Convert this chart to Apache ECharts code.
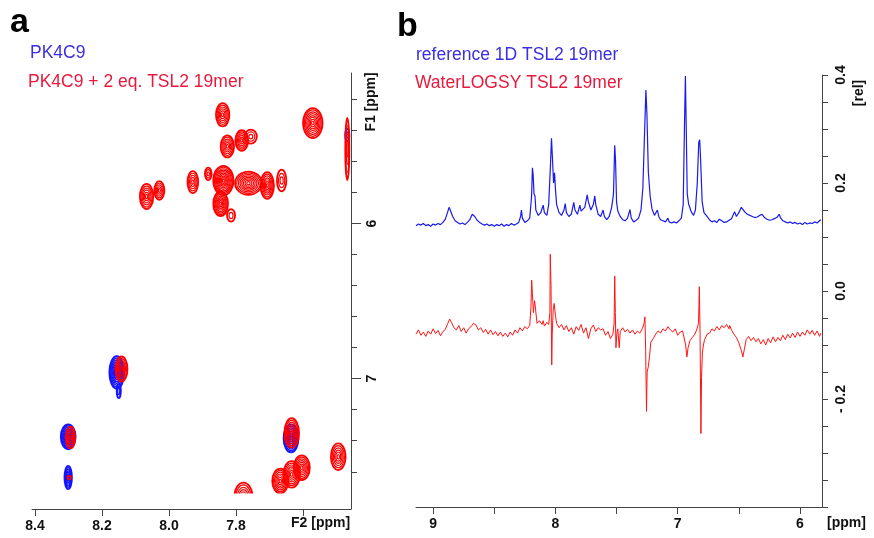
<!DOCTYPE html>
<html>
<head>
<meta charset="utf-8">
<script src="https://cdn.jsdelivr.net/npm/echarts@6/dist/echarts.min.js"></script>
<style>html,body{margin:0;padding:0;background:#fff;}#c{width:874px;height:538px;}</style>
</head>
<body>
<div id="c"></div>
<script>
// ---------- Panel a: 2D contour peaks [F2 ppm, F1 ppm, half-width F2 (ppm), half-width F1 (ppm), contour levels]
const redContours = [
  [7.840, 5.299, 0.020, 0.075, 6],
  [7.571, 5.353, 0.029, 0.097, 8],
  [7.826, 5.503, 0.020, 0.071, 6],
  [7.783, 5.465, 0.019, 0.066, 6],
  [7.756, 5.440, 0.018, 0.045, 3],
  [8.067, 5.826, 0.020, 0.081, 6],
  [8.029, 5.787, 0.015, 0.060, 5],
  [7.929, 5.733, 0.016, 0.071, 5],
  [7.838, 5.723, 0.030, 0.095, 10],
  [7.846, 5.873, 0.022, 0.080, 8],
  [7.815, 5.948, 0.012, 0.040, 2],
  [7.883, 5.680, 0.010, 0.040, 3],
  [7.763, 5.740, 0.040, 0.075, 8],
  [7.707, 5.755, 0.020, 0.086, 7],
  [7.664, 5.723, 0.014, 0.070, 3],
  [8.142, 6.938, 0.018, 0.081, 6],
  [8.294, 7.379, 0.014, 0.070, 5],
  [8.298, 7.637, 0.005, 0.012, 1],
  [7.634, 7.350, 0.022, 0.095, 7],
  [7.495, 7.503, 0.022, 0.086, 6],
  [7.668, 7.660, 0.024, 0.080, 7],
  [7.634, 7.617, 0.025, 0.085, 7],
  [7.604, 7.574, 0.024, 0.080, 7],
  [7.778, 7.760, 0.027, 0.090, 6],
  [7.468, 5.520, 0.006, 0.200, 4]
];
const blueContours = [
  [8.156, 6.960, 0.022, 0.105, 9],
  [8.150, 7.080, 0.006, 0.045, 2],
  [8.301, 7.375, 0.022, 0.080, 9],
  [8.301, 7.637, 0.011, 0.075, 7],
  [7.636, 7.385, 0.022, 0.090, 8],
  [7.468, 5.430, 0.006, 0.040, 2]
];
const F1_LIMIT = 7.74;
const f2Ticks = [8.4, 8.2, 8.0, 7.8, 7.6];
const f2Labels = [8.4, 8.2, 8.0, 7.8];
const f1Ticks = [5.2, 5.4, 5.6, 5.8, 6.0, 6.2, 6.4, 6.6, 6.8, 7.0, 7.2, 7.4, 7.6];
const f1Labels = [6, 7];

// ---------- Panel b: 1D spectra [ppm, rel]
const blueSpectrum = [
[9.14,0.121],[9.12,0.124],[9.10,0.122],[9.08,0.125],[9.06,0.121],[9.04,0.123],[9.02,0.120],[9.00,0.124],
[8.98,0.122],[8.96,0.125],[8.94,0.123],[8.92,0.127],[8.90,0.133],[8.88,0.147],[8.87,0.155],[8.86,0.150],
[8.84,0.138],[8.82,0.130],[8.80,0.127],[8.78,0.124],[8.76,0.126],[8.74,0.123],[8.72,0.127],[8.70,0.132],
[8.68,0.142],[8.67,0.143],[8.66,0.138],[8.64,0.131],[8.62,0.127],[8.60,0.124],[8.58,0.122],[8.56,0.124],
[8.54,0.121],[8.52,0.123],[8.50,0.120],[8.48,0.123],[8.46,0.121],[8.44,0.124],[8.42,0.120],[8.40,0.123],
[8.38,0.121],[8.36,0.125],[8.34,0.122],[8.32,0.124],[8.30,0.127],[8.285,0.138],[8.278,0.150],[8.27,0.135],
[8.25,0.127],[8.23,0.130],[8.21,0.135],[8.195,0.175],[8.188,0.228],[8.182,0.215],[8.175,0.180],[8.167,0.176],
[8.16,0.150],[8.14,0.140],[8.12,0.145],[8.10,0.159],[8.09,0.145],[8.07,0.140],[8.055,0.160],[8.04,0.235],
[8.032,0.283],[8.025,0.250],[8.015,0.200],[8.007,0.219],[8.00,0.190],[7.99,0.160],[7.97,0.145],[7.95,0.140],
[7.93,0.150],[7.92,0.162],[7.91,0.145],[7.89,0.138],[7.87,0.142],[7.85,0.164],[7.84,0.150],[7.82,0.142],
[7.80,0.159],[7.79,0.148],[7.76,0.155],[7.745,0.172],[7.74,0.178],[7.73,0.165],[7.71,0.150],[7.69,0.160],
[7.678,0.176],[7.67,0.160],[7.65,0.142],[7.63,0.138],[7.61,0.150],[7.60,0.138],[7.58,0.132],[7.56,0.138],
[7.54,0.155],[7.525,0.180],[7.515,0.270],[7.508,0.240],[7.50,0.165],[7.49,0.148],[7.478,0.150],[7.47,0.138],
[7.45,0.132],[7.43,0.130],[7.41,0.135],[7.39,0.151],[7.38,0.135],[7.36,0.128],[7.34,0.131],[7.32,0.135],
[7.30,0.150],[7.285,0.190],[7.27,0.300],[7.26,0.372],[7.252,0.330],[7.24,0.220],[7.225,0.175],[7.21,0.152],
[7.19,0.140],[7.175,0.140],[7.166,0.150],[7.155,0.138],[7.14,0.132],[7.12,0.130],[7.10,0.128],[7.08,0.135],
[7.07,0.128],[7.05,0.126],[7.03,0.128],[7.01,0.126],[6.99,0.130],[6.97,0.135],[6.955,0.160],[6.945,0.300],
[6.937,0.398],[6.93,0.300],[6.922,0.180],[6.91,0.160],[6.902,0.156],[6.895,0.150],[6.885,0.145],[6.87,0.140],
[6.855,0.150],[6.84,0.200],[6.828,0.275],[6.82,0.280],[6.812,0.240],[6.80,0.165],[6.785,0.145],[6.771,0.147],
[6.76,0.138],[6.74,0.132],[6.72,0.128],[6.70,0.130],[6.68,0.127],[6.66,0.133],[6.64,0.130],[6.62,0.127],
[6.60,0.128],[6.58,0.131],[6.56,0.134],[6.535,0.147],[6.52,0.138],[6.50,0.145],[6.48,0.155],[6.467,0.156],
[6.45,0.146],[6.43,0.142],[6.41,0.140],[6.39,0.138],[6.37,0.136],[6.35,0.137],[6.33,0.140],[6.31,0.142],
[6.29,0.136],[6.27,0.133],[6.25,0.131],[6.23,0.132],[6.21,0.134],[6.19,0.136],[6.17,0.142],[6.16,0.136],
[6.14,0.130],[6.12,0.128],[6.10,0.126],[6.08,0.128],[6.06,0.125],[6.04,0.127],[6.02,0.124],[6.00,0.126],
[5.98,0.123],[5.96,0.127],[5.94,0.124],[5.92,0.126],[5.90,0.125],[5.88,0.128],[5.86,0.126],[5.84,0.130],
[5.83,0.132]
];
const redSpectrum = [
[9.14,-0.080],[9.12,-0.072],[9.10,-0.082],[9.08,-0.076],[9.06,-0.084],[9.04,-0.074],[9.02,-0.080],[9.00,-0.070],
[8.98,-0.079],[8.96,-0.073],[8.94,-0.083],[8.92,-0.075],[8.90,-0.071],[8.88,-0.060],[8.865,-0.052],[8.85,-0.058],
[8.83,-0.068],[8.81,-0.072],[8.79,-0.064],[8.77,-0.075],[8.75,-0.068],[8.73,-0.078],[8.71,-0.070],[8.69,-0.066],
[8.67,-0.060],[8.65,-0.063],[8.63,-0.072],[8.61,-0.068],[8.59,-0.077],[8.57,-0.071],[8.55,-0.080],[8.53,-0.072],
[8.51,-0.081],[8.49,-0.075],[8.47,-0.083],[8.45,-0.076],[8.43,-0.084],[8.41,-0.078],[8.39,-0.085],[8.37,-0.076],
[8.35,-0.082],[8.33,-0.072],[8.31,-0.078],[8.29,-0.068],[8.27,-0.074],[8.25,-0.066],[8.23,-0.070],[8.21,-0.064],
[8.20,-0.030],[8.194,0.020],[8.188,-0.005],[8.18,-0.040],[8.17,-0.018],[8.162,-0.035],[8.15,-0.060],[8.13,-0.055],
[8.11,-0.062],[8.10,-0.055],[8.09,-0.065],[8.07,-0.058],[8.055,-0.062],[8.045,-0.040],[8.042,0.068],[8.036,0.010],
[8.030,-0.137],[8.026,-0.080],[8.018,-0.035],[8.010,-0.023],[8.00,-0.045],[7.99,-0.060],[7.97,-0.068],[7.95,-0.062],
[7.93,-0.072],[7.91,-0.064],[7.89,-0.075],[7.87,-0.068],[7.85,-0.080],[7.83,-0.066],[7.81,-0.073],[7.79,-0.062],
[7.77,-0.078],[7.75,-0.068],[7.73,-0.088],[7.71,-0.070],[7.69,-0.063],[7.67,-0.075],[7.65,-0.068],[7.63,-0.072],
[7.61,-0.070],[7.59,-0.082],[7.57,-0.075],[7.55,-0.088],[7.53,-0.080],[7.52,-0.060],[7.515,0.028],[7.510,-0.040],
[7.505,-0.105],[7.498,-0.080],[7.49,-0.070],[7.478,-0.105],[7.47,-0.075],[7.45,-0.068],[7.43,-0.076],[7.41,-0.071],
[7.39,-0.078],[7.37,-0.072],[7.35,-0.080],[7.33,-0.074],[7.31,-0.078],[7.29,-0.070],[7.275,-0.060],[7.268,-0.048],
[7.262,-0.110],[7.255,-0.223],[7.25,-0.150],[7.24,-0.140],[7.23,-0.120],[7.22,-0.095],[7.20,-0.088],[7.18,-0.080],
[7.16,-0.074],[7.14,-0.078],[7.12,-0.070],[7.10,-0.074],[7.08,-0.066],[7.06,-0.072],[7.04,-0.076],[7.02,-0.070],
[7.00,-0.082],[6.98,-0.076],[6.96,-0.074],[6.945,-0.072],[6.935,-0.100],[6.925,-0.122],[6.915,-0.105],[6.90,-0.092],
[6.88,-0.086],[6.86,-0.080],[6.845,-0.072],[6.83,-0.060],[6.823,0.008],[6.817,-0.080],[6.810,-0.264],[6.805,-0.160],
[6.798,-0.115],[6.79,-0.100],[6.78,-0.090],[6.76,-0.080],[6.74,-0.078],[6.72,-0.070],[6.70,-0.074],[6.68,-0.066],
[6.66,-0.072],[6.64,-0.064],[6.62,-0.068],[6.60,-0.062],[6.58,-0.070],[6.575,-0.064],[6.56,-0.072],[6.54,-0.080],
[6.52,-0.086],[6.50,-0.096],[6.48,-0.110],[6.467,-0.122],[6.455,-0.108],[6.44,-0.090],[6.42,-0.084],[6.40,-0.092],
[6.38,-0.086],[6.36,-0.094],[6.34,-0.088],[6.32,-0.098],[6.30,-0.090],[6.28,-0.100],[6.26,-0.088],[6.24,-0.096],
[6.22,-0.085],[6.20,-0.094],[6.18,-0.086],[6.16,-0.092],[6.14,-0.082],[6.12,-0.090],[6.10,-0.080],[6.08,-0.087],
[6.06,-0.078],[6.04,-0.086],[6.02,-0.076],[6.00,-0.084],[5.98,-0.076],[5.96,-0.082],[5.94,-0.072],[5.92,-0.080],
[5.90,-0.073],[5.88,-0.082],[5.86,-0.074],[5.84,-0.084],[5.83,-0.078]
];
const ppmTicks = [9, 8.5, 8, 7.5, 7, 6.5, 6];
const ppmLabels = [9, 8, 7, 6];
const relTicks = [-0.4, -0.35, -0.3, -0.25, -0.2, -0.15, -0.1, -0.05, 0, 0.05, 0.1, 0.15, 0.2, 0.25, 0.3, 0.35, 0.4];
const relLabels = [0.4, 0.2, 0, -0.2];

const FONT = '"Liberation Sans", Arial, sans-serif';
const AXC = '#444';

function contourRenderer(color, lw) {
  return function (params, api) {
    const c = api.coord([api.value(0), api.value(1)]);
    const s = api.size([api.value(2), api.value(3)]);
    const n = api.value(4);
    const children = [];
    for (let k = n; k >= 1; k--) {
      children.push({
        type: 'ellipse',
        shape: { cx: c[0], cy: c[1], rx: Math.max(0.8, s[0] * k / n), ry: Math.max(0.8, s[1] * k / n) },
        style: { fill: 'none', stroke: color, lineWidth: k === n ? lw + 0.6 : lw }
      });
    }
    const limY = api.coord([api.value(0), F1_LIMIT])[1];
    const top = c[1] - s[1] - 4;
    return {
      type: 'group',
      children: children,
      clipPath: { type: 'rect', shape: { x: c[0] - s[0] - 4, y: top, width: 2 * s[0] + 8, height: Math.max(0, limY - top) } }
    };
  };
}

const chart = echarts.init(document.getElementById('c'), null, { renderer: 'canvas' });
chart.setOption({
  animation: false,
  backgroundColor: '#fff',
  grid: [
    { left: 32, top: 73, width: 319, height: 436 },
    { left: 416, top: 75, width: 406, height: 432 }
  ],
  xAxis: [
    {
      gridIndex: 0, type: 'value', min: 7.457, max: 8.409, inverse: true, position: 'bottom',
      axisLine: { show: true, onZero: false, lineStyle: { color: AXC, width: 1 } },
      axisTick: { show: true, length: 7, customValues: f2Ticks, lineStyle: { color: AXC } },
      axisLabel: { customValues: f2Labels, formatter: v => v.toFixed(1), margin: 10, color: '#111', fontFamily: FONT, fontWeight: 'bold', fontSize: 14 },
      splitLine: { show: false }
    },
    {
      gridIndex: 1, type: 'value', min: 5.82, max: 9.14, inverse: true, position: 'bottom',
      axisLine: { show: true, onZero: false, lineStyle: { color: AXC, width: 1 } },
      axisTick: { show: true, length: 7, customValues: ppmTicks, lineStyle: { color: AXC } },
      axisLabel: { customValues: ppmLabels, formatter: v => String(Math.round(v)), margin: 10, color: '#111', fontFamily: FONT, fontWeight: 'bold', fontSize: 14 },
      splitLine: { show: false }
    }
  ],
  yAxis: [
    {
      gridIndex: 0, type: 'value', min: 5.03, max: 7.84, inverse: true, position: 'right',
      axisLine: { show: true, onZero: false, lineStyle: { color: AXC, width: 1 } },
      axisTick: { show: true, length: 6, customValues: f1Ticks, lineStyle: { color: AXC } },
      axisLabel: { customValues: f1Labels, formatter: v => String(Math.round(v)), rotate: 90, margin: 14, color: '#111', fontFamily: FONT, fontWeight: 'bold', fontSize: 14 },
      splitLine: { show: false }
    },
    {
      gridIndex: 0, type: 'value', min: 5.03, max: 7.84, inverse: true, position: 'right',
      axisLine: { show: false },
      axisTick: { show: true, length: 10, customValues: f1Labels, lineStyle: { color: AXC } },
      axisLabel: { show: false },
      splitLine: { show: false }
    },
    {
      gridIndex: 1, type: 'value', min: -0.4, max: 0.4, position: 'right',
      axisLine: { show: true, onZero: false, lineStyle: { color: AXC, width: 1 } },
      axisTick: { show: true, length: 6, customValues: relTicks, lineStyle: { color: AXC } },
      axisLabel: {
        customValues: relLabels, rotate: 90, margin: 12, color: '#111', fontFamily: FONT, fontWeight: 'bold', fontSize: 14,
        formatter: v => (Math.abs(v) < 1e-9 ? '0.0' : (v < 0 ? '- ' + Math.abs(v).toFixed(1) : v.toFixed(1)))
      },
      splitLine: { show: false }
    }
  ],
  series: [
    {
      type: 'custom', name: 'PK4C9', xAxisIndex: 0, yAxisIndex: 0, clip: true,
      data: blueContours, encode: { x: 0, y: 1 }, renderItem: contourRenderer('#1414ff', 1.3)
    },
    {
      type: 'custom', name: 'PK4C9 + 2 eq. TSL2 19mer', xAxisIndex: 0, yAxisIndex: 0, clip: true,
      data: redContours, encode: { x: 0, y: 1 }, renderItem: contourRenderer('#ff0000', 1.2)
    },
    {
      type: 'line', name: 'reference 1D TSL2 19mer', xAxisIndex: 1, yAxisIndex: 2, data: blueSpectrum,
      showSymbol: false, symbol: 'none', lineStyle: { color: '#1a1aee', width: 1.2 }, clip: true
    },
    {
      type: 'line', name: 'WaterLOGSY TSL2 19mer', xAxisIndex: 1, yAxisIndex: 2, data: redSpectrum,
      showSymbol: false, symbol: 'none', lineStyle: { color: '#ff1414', width: 1 }, clip: true
    }
  ],
  graphic: [
    { type: 'text', left: 10, top: 6, style: { text: 'a', font: 'bold 34px ' + FONT, fill: '#000' } },
    { type: 'text', left: 397, top: 10, style: { text: 'b', font: 'bold 34px ' + FONT, fill: '#000' } },
    { type: 'text', x: 30, y: 53.5, style: { text: 'PK4C9', font: '17.5px ' + FONT, fill: '#3a2ee0', verticalAlign: 'middle' } },
    { type: 'text', x: 28, y: 82.5, style: { text: 'PK4C9 + 2 eq. TSL2 19mer', font: '17.5px ' + FONT, fill: '#e8193c', verticalAlign: 'middle' } },
    { type: 'text', x: 416, y: 55, style: { text: 'reference 1D TSL2 19mer', font: '17.5px ' + FONT, fill: '#3a2ee0', verticalAlign: 'middle' } },
    { type: 'text', x: 415, y: 83, style: { text: 'WaterLOGSY TSL2 19mer', font: '17.5px ' + FONT, fill: '#e8193c', verticalAlign: 'middle' } },
    { type: 'text', x: 291, y: 523, style: { text: 'F2 [ppm]', font: 'bold 14px ' + FONT, fill: '#111', verticalAlign: 'middle' } },
    { type: 'text', x: 827, y: 523, style: { text: '[ppm]', font: 'bold 14px ' + FONT, fill: '#111', verticalAlign: 'middle' } },
    { type: 'text', x: 371, y: 102, rotation: Math.PI / 2, style: { text: 'F1 [ppm]', font: 'bold 14px ' + FONT, fill: '#111', align: 'center', verticalAlign: 'middle' } },
    { type: 'text', x: 859, y: 93, rotation: Math.PI / 2, style: { text: '[rel]', font: 'bold 14px ' + FONT, fill: '#111', align: 'center', verticalAlign: 'middle' } }
  ]
});
</script>
</body>
</html>
